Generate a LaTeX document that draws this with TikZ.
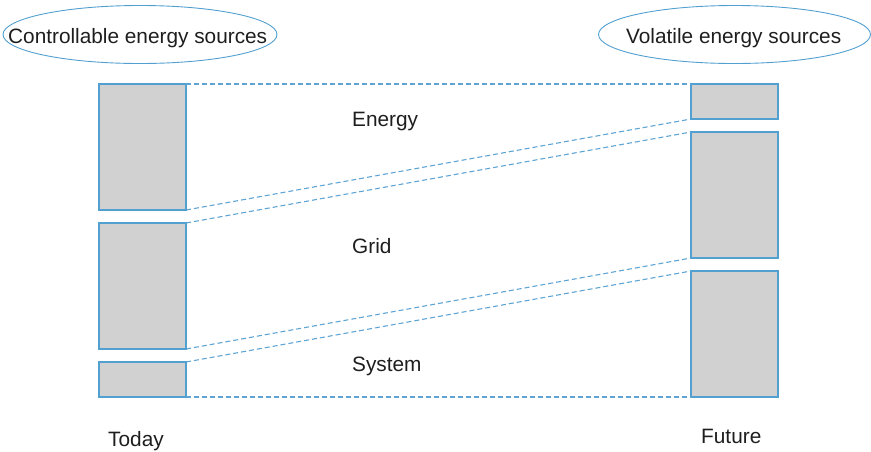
\documentclass[tikz,border=0pt]{standalone}
\usepackage{fontspec}
\setmainfont{Liberation Sans}
\usetikzlibrary{shapes.geometric}
\definecolor{edgeblue}{RGB}{82,160,208}
\definecolor{dashblue}{RGB}{95,165,212}
\definecolor{boxgray}{RGB}{208,209,208}
\definecolor{txt}{RGB}{30,30,30}
\begin{document}
\begin{tikzpicture}[x=1pt,y=-1pt,
  bar/.style={draw=edgeblue,fill=boxgray,line width=1.2pt},
  link/.style={draw=dashblue,dashed,dash pattern=on 5pt off 3pt,line width=1.1pt},
  oval/.style={draw=edgeblue,line width=0.9pt},
  lab/.style={anchor=base west,inner sep=0pt,font=\fontsize{20.8}{24}\selectfont,text=txt}]
\useasboundingbox (0,0) rectangle (871,451);
% ellipses
\draw[oval] (140,34.5) ellipse [x radius=137, y radius=29];
\draw[oval] (734.5,34.5) ellipse [x radius=136, y radius=29];
\node[lab] (ctrl) at (8,43.3) {Controllable energy sources};
\node[lab] (vol) at (626,43.3) {Volatile energy sources};
% left bars
\draw[bar] (99,84) rectangle (186,210);
\draw[bar] (99,223) rectangle (186,349);
\draw[bar] (99,362) rectangle (186,397);
% right bars
\draw[bar] (691,84) rectangle (778,119);
\draw[bar] (691,132) rectangle (778,258);
\draw[bar] (691,271) rectangle (778,397);
% coordinates
\coordinate (l1) at (186,84);
\coordinate (l2) at (186,210);
\coordinate (l3) at (186,223);
\coordinate (l4) at (186,349);
\coordinate (l5) at (186,362);
\coordinate (l6) at (186,397);
\coordinate (r1) at (691,84);
\coordinate (r2) at (691,119);
\coordinate (r3) at (691,132);
\coordinate (r4) at (691,258);
\coordinate (r5) at (691,271);
\coordinate (r6) at (691,397);
\draw[link] (l1) -- (r1);
\draw[link] (l2) -- (r2);
\draw[link] (l3) -- (r3);
\draw[link] (l4) -- (r4);
\draw[link] (l5) -- (r5);
\draw[link] (l6) -- (r6);
% labels
\node[lab] (energy) at (352,126.4) {Energy};
\node[lab] (grid) at (352,253.3) {Grid};
\node[lab] (system) at (352,371) {System};
\node[lab] (today) at (108,446) {Today};
\node[lab] (future) at (701,443) {Future};
\end{tikzpicture}
\end{document}
